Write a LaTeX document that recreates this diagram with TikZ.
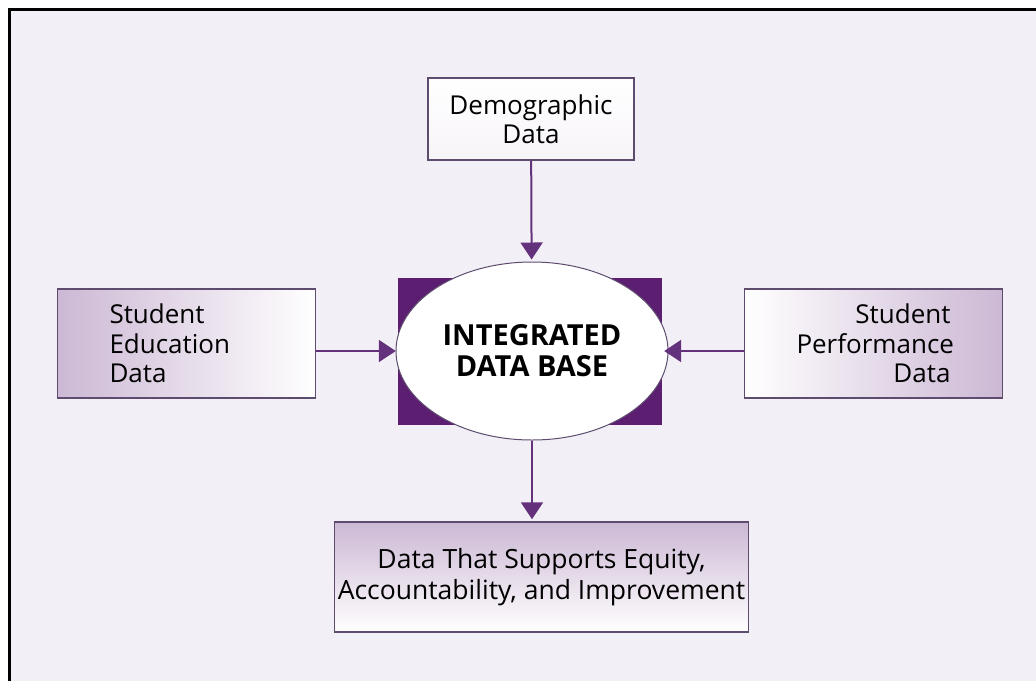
\documentclass[tikz,border=0pt]{standalone}
\usepackage{fontspec}
\setmainfont{Open Sans}
\usetikzlibrary{shapes.geometric,arrows.meta}
\definecolor{bgpurple}{RGB}{243,239,246}
\definecolor{dbpurple}{RGB}{92,30,112}
\definecolor{arrpurple}{RGB}{100,50,125}
\definecolor{boxline}{RGB}{94,76,110}
\definecolor{shadepurple}{RGB}{204,184,212}
\tikzset{
  databox/.style={draw=boxline, line width=1.5pt, inner ysep=0pt,
    font=\fontsize{26}{29.5}\selectfont},
  arr/.style={draw=arrpurple, line width=2pt,
    -{Triangle[width=22pt,length=17pt]}, shorten >=2pt}
}
\begin{document}
\begin{tikzpicture}[x=1pt,y=-1pt]
        % 背景と枠
        \useasboundingbox (0,0) rectangle (1036,681);
        \fill[bgpurple] (9,9) rectangle (1036,681);
        \draw[black, line width=3pt] (9,681) -- (9,9) -- (1036,9);

        % 中央の楕円
        \node[fill=dbpurple, minimum width=264pt, minimum height=147pt] (sq) at (530,351) {};
        \node[ellipse, draw=boxline, line width=1pt, fill=white, inner sep=0pt,
              minimum width=272pt, minimum height=178pt, align=center,
              font=\fontsize{29}{31}\selectfont\bfseries] (db) at (532,351)
              {INTEGRATED\\DATA BASE};

        % 周りの箱
        \node[databox, top color=white, bottom color=white!85!shadepurple,
              minimum width=206pt, minimum height=82pt, align=center] (demo) at (531,119)
              {Demographic\\Data};
        \node[databox, left color=shadepurple, right color=white,
              inner xsep=52pt, text width=154pt, minimum height=109pt, align=left] (edu) at (186.5,343.5)
              {Student\\Education\\Data};
        \node[databox, left color=white, right color=shadepurple,
              inner xsep=52pt, text width=154pt, minimum height=109pt, align=right] (perf) at (873.5,343.5)
              {Student\\Performance\\Data};
        \node[databox, top color=shadepurple, bottom color=white,
              font=\fontsize{26.5}{31}\selectfont,
              minimum width=411pt, minimum height=110pt, align=center] (out) at (541.5,577)
              {Data That Supports Equity,\\Accountability, and Improvement};

        % 矢印
        \draw[arr] (demo) -- (db);
        \draw[arr] (edu.east |- sq.west) -- (sq.west);
        \draw[arr] (perf.west |- sq.east) -- (sq.east);
        \draw[arr] (db.south) -- (db.south |- out.north);
\end{tikzpicture}
\end{document}
